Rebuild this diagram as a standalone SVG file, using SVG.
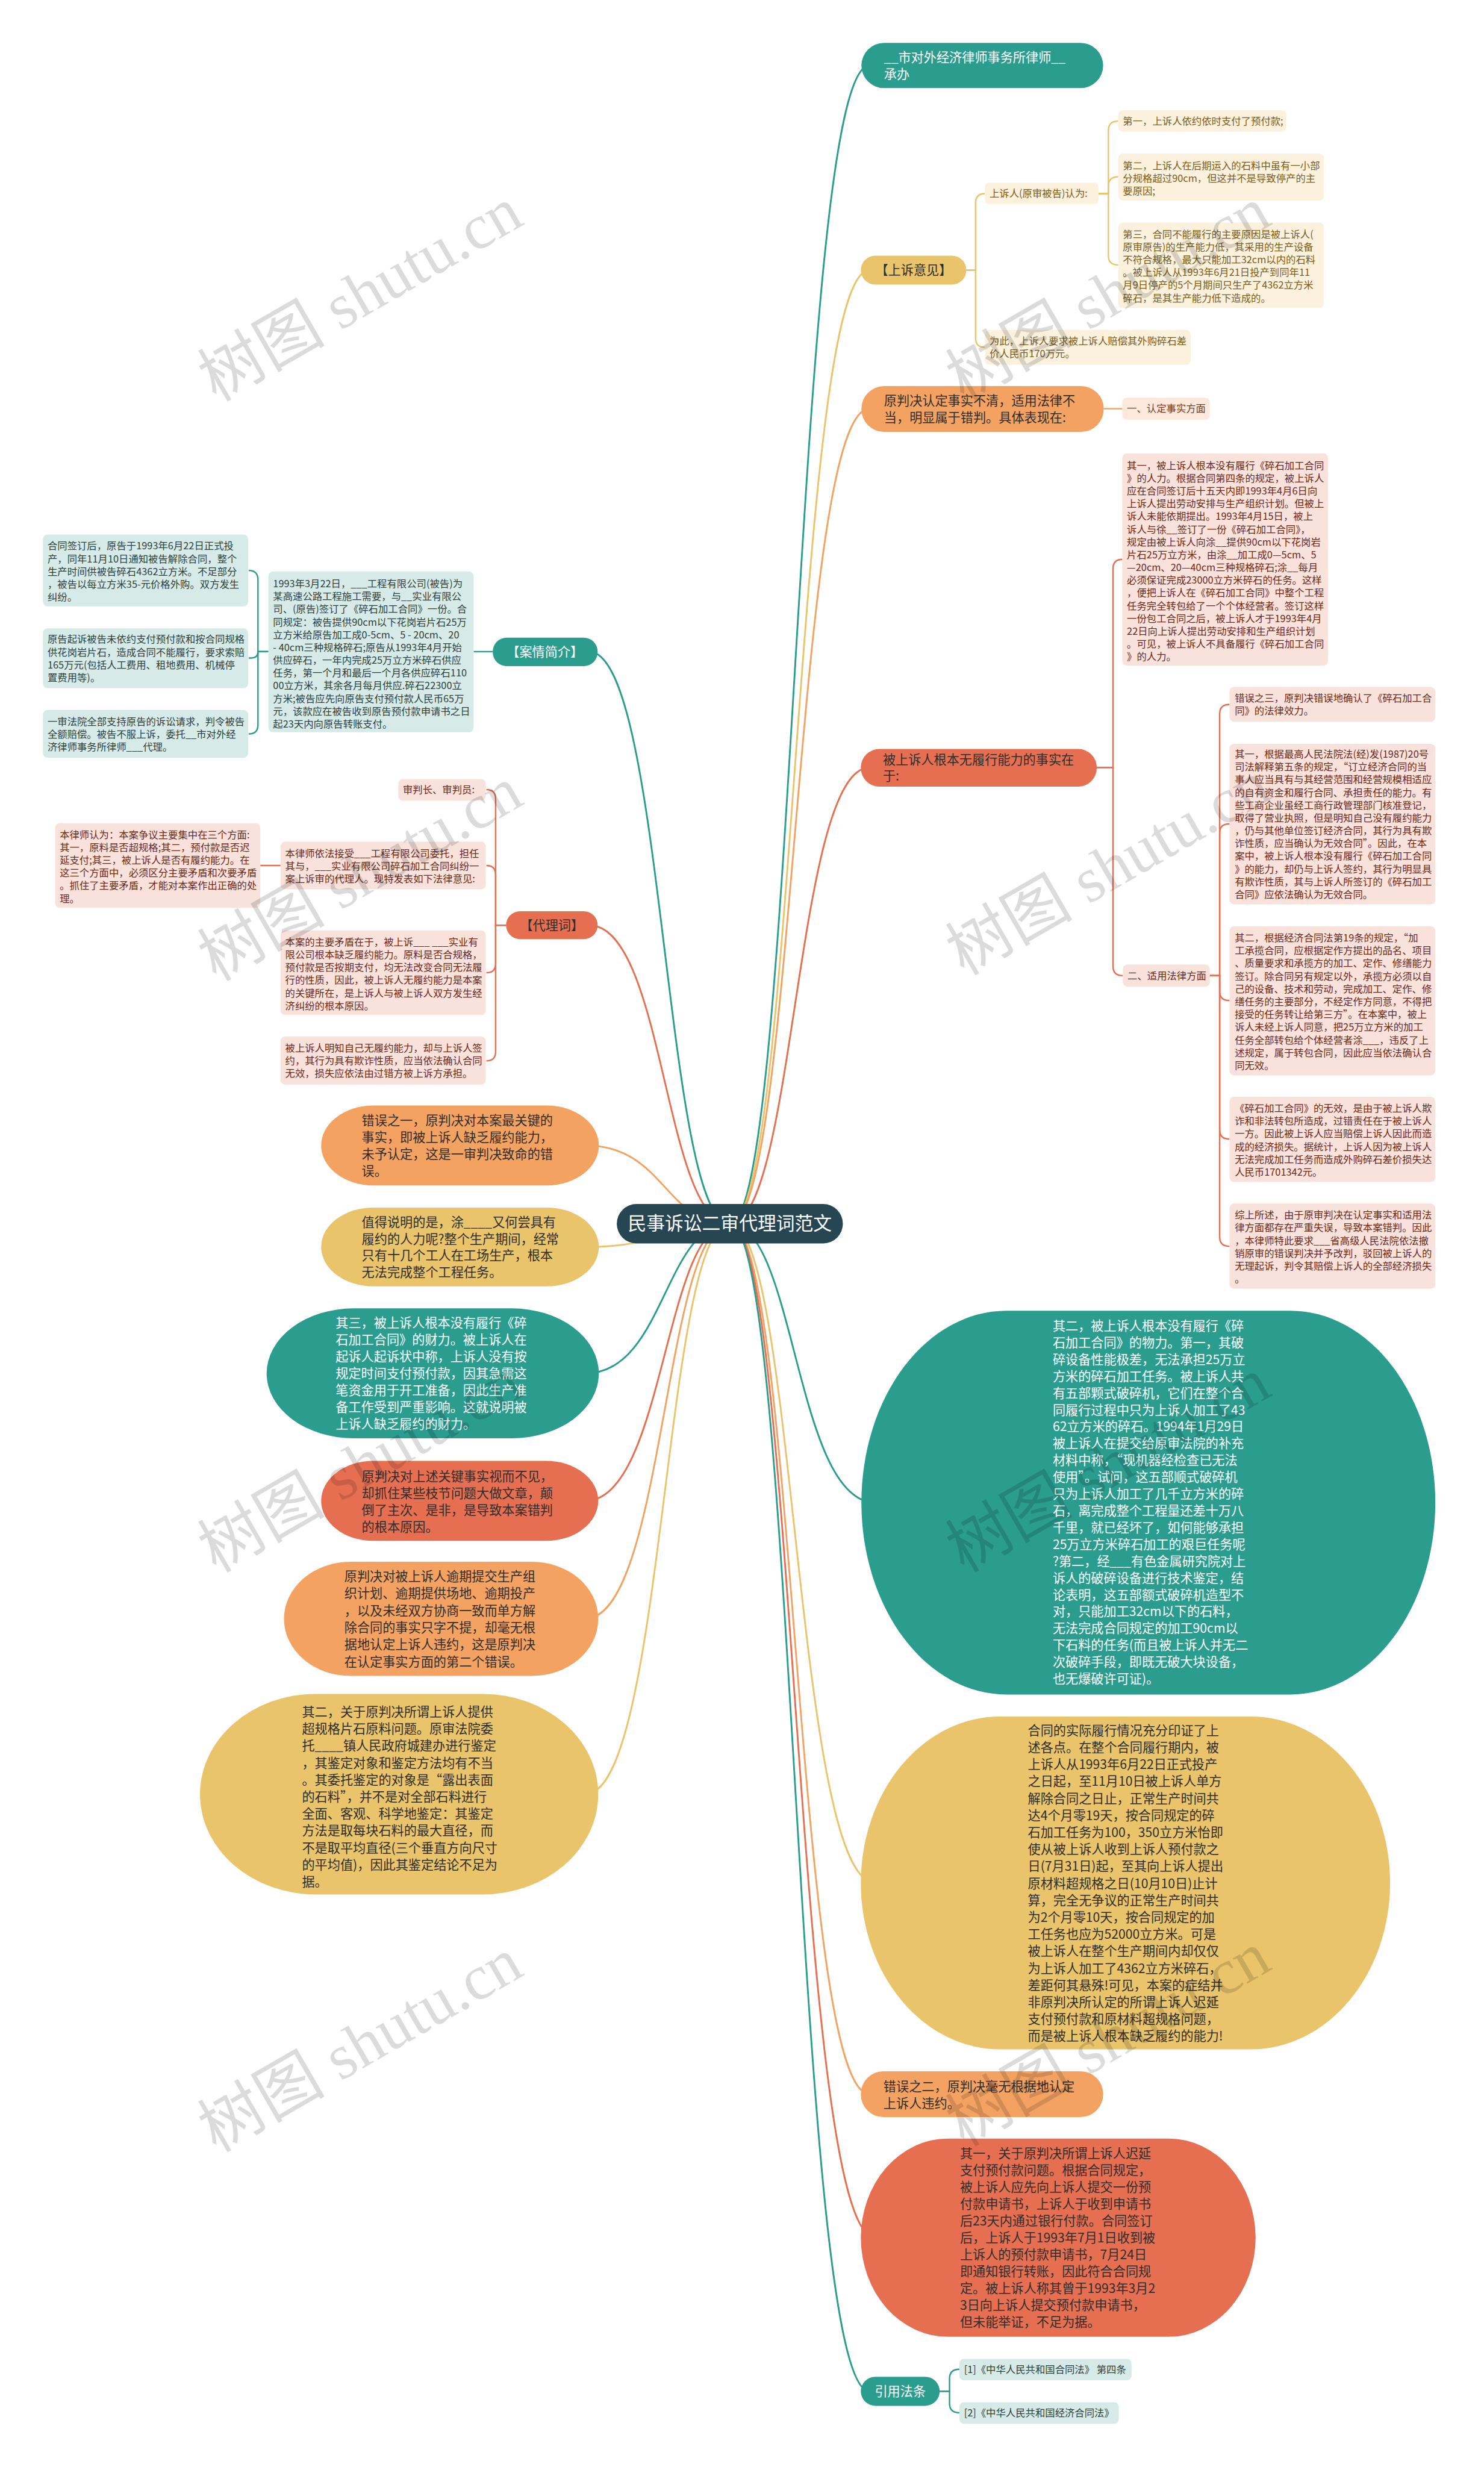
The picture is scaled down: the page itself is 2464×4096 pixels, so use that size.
<svg xmlns="http://www.w3.org/2000/svg" width="2464" height="4096" viewBox="0 0 2464 4096">
<style>
.t{font-family:"Noto Sans CJK SC","Liberation Sans",sans-serif}
.s{font-size:17px}
.m{font-size:22px}
.w{fill:#ffffff}
.d{fill:#2e2e2e}
.ty{fill:#7a5c1b}
.tr{fill:#6a2a1a}
.to{fill:#7a3a1a}
.tt{fill:#2f3f3d}
.bt{fill:#d6ebe8}
.by{fill:#fbf1dd}
.bo{fill:#fde8dc}
.br{fill:#f9e1dc}
.c{fill:none;stroke-width:3}
.c2{fill:none;stroke-width:2.5}
.kt{stroke:#2a9d8f}.ky{stroke:#e9c46a}.ko{stroke:#f4a261}.kr{stroke:#e76f51}
.wm{font-family:"Liberation Serif","Noto Sans CJK SC",serif;font-size:110px;fill:#000;fill-opacity:0.14}
</style>
<rect x="0" y="0" width="2464" height="4096" fill="#ffffff"/>
<g transform="scale(0.9625)">
<g id="connectors">
<path class="c kt" d="M1259,2111 C1372,2111 1372,113 1500,113"/>
<path class="c ky" d="M1259,2111 C1372,2111 1372,466 1500,466"/>
<path class="c ko" d="M1259,2111 C1372,2111 1372,705 1500,705"/>
<path class="c kr" d="M1259,2111 C1372,2111 1372,1324 1500,1324"/>
<path class="c kt" d="M1259,2111 C1372,2111 1372,2592 1510,2592"/>
<path class="c ky" d="M1259,2111 C1372,2111 1372,3248 1510,3248"/>
<path class="c ko" d="M1259,2111 C1372,2111 1372,3612 1500,3612"/>
<path class="c kr" d="M1259,2111 C1372,2111 1372,3860 1510,3860"/>
<path class="c kt" d="M1259,2111 C1372,2111 1372,4125 1500,4125"/>
<path class="c kt" d="M1259,2111 C1146,2111 1146,1124 1016,1124"/>
<path class="c kr" d="M1259,2111 C1146,2111 1146,1596 1016,1596"/>
<path class="c ko" d="M1259,2111 C1146,2111 1146,1976 1010,1976"/>
<path class="c ky" d="M1259,2111 C1146,2111 1146,2151 1010,2151"/>
<path class="c kt" d="M1259,2111 C1146,2111 1146,2369 1010,2369"/>
<path class="c kr" d="M1259,2111 C1146,2111 1146,2589 1010,2589"/>
<path class="c ko" d="M1259,2111 C1146,2111 1146,2792 1010,2792"/>
<path class="c ky" d="M1259,2111 C1146,2111 1146,3095 1010,3095"/>
<path class="c2 ky" d="M1667,466 H1683 V350 Q1683,334 1699,334"/>
<path class="c2 ky" d="M1667,466 H1683 V583 Q1683,599 1699,599"/>
<path class="c2 ky" d="M1895,334 H1912 V225 Q1912,209 1929,209"/>
<path class="c2 ky" d="M1895,334 H1912 V321 Q1912,305 1929,305"/>
<path class="c2 ky" d="M1895,334 H1912 V441 Q1912,457 1929,457"/>
<path class="c2 ko" d="M1904,705 H1936"/>
<path class="c2 kr" d="M1892,1324 H1920 V981 Q1920,965 1936,965"/>
<path class="c2 kr" d="M1892,1324 H1920 V1667 Q1920,1683 1937,1683"/>
<path class="c2 kr" d="M2087,1683 H2104 V1231 Q2104,1215 2121,1215"/>
<path class="c2 kr" d="M2087,1683 H2104 V1437 Q2104,1421 2121,1421"/>
<path class="c2 kr" d="M2087,1683 H2104 V1710 Q2104,1726 2121,1726"/>
<path class="c2 kr" d="M2087,1683 H2104 V1949 Q2104,1965 2121,1965"/>
<path class="c2 kr" d="M2087,1683 H2104 V2134 Q2104,2150 2121,2150"/>
<path class="c2 kt" d="M1621,4125 H1638 V4103 Q1638,4087 1655,4087"/>
<path class="c2 kt" d="M1621,4125 H1638 V4146 Q1638,4162 1655,4162"/>
<path class="c2 kt" d="M850,1124 H817"/>
<path class="c2 kt" d="M463,1124 H445 V1000 Q445,984 429,984"/>
<path class="c2 kt" d="M463,1124 H445 Q445,1135 434,1135 H429"/>
<path class="c2 kt" d="M463,1124 H445 V1250 Q445,1266 429,1266"/>
<path class="c2 kr" d="M873,1596 H855 V1378 Q855,1362 839,1362"/>
<path class="c2 kr" d="M873,1596 H855 V1509 Q855,1493 839,1493"/>
<path class="c2 kr" d="M873,1596 H855 V1662 Q855,1678 839,1678"/>
<path class="c2 kr" d="M873,1596 H855 V1814 Q855,1830 839,1830"/>
<path class="c2 kr" d="M484,1493 H449"/>
</g>

<g id="root">
<rect x="1064" y="2077" width="390" height="68" rx="34" fill="#264653"/>
<text class="t w" x="1259" y="2122" font-size="32" text-anchor="middle">民事诉讼二审代理词范文</text>
</g>

<g id="n-lawyer">
<rect x="1486" y="74" width="417" height="78" rx="39" fill="#2a9d8f"/>
<text class="t m w"><tspan x="1525" y="107">__市对外经济律师事务所律师__</tspan><tspan x="1525" y="136">承办</tspan></text>
</g>

<g id="n-appeal">
<rect x="1485" y="441" width="182" height="50" rx="25" fill="#e9c46a"/>
<text class="t m d" x="1576" y="474" text-anchor="middle">【上诉意见】</text>
</g>
<g id="n-appeal-1">
<rect x="1699" y="315" width="196" height="37" rx="8" class="by"/>
<text class="t s ty" x="1707" y="340">上诉人(原审被告)认为:</text>
</g>
<g id="n-appeal-1a">
<rect x="1929" y="190" width="290" height="37" rx="8" class="by"/>
<text class="t s ty" x="1937" y="215">第一，上诉人依约依时支付了预付款;</text>
</g>
<g id="n-appeal-1b">
<rect x="1929" y="265" width="355" height="81" rx="8" class="by"/>
<text class="t s ty"><tspan x="1937" y="292">第二，上诉人在后期运入的石料中虽有一小部</tspan><tspan x="1937" y="314">分规格超过90cm，但这并不是导致停产的主</tspan><tspan x="1937" y="336">要原因;</tspan></text>
</g>
<g id="n-appeal-1c">
<rect x="1929" y="384" width="355" height="147" rx="8" class="by"/>
<text class="t s ty"><tspan x="1937" y="410">第三，合同不能履行的主要原因是被上诉人(</tspan><tspan x="1937" y="432">原审原告)的生产能力低，其采用的生产设备</tspan><tspan x="1937" y="454">不符合规格，最大只能加工32cm以内的石料</tspan><tspan x="1937" y="476">。被上诉人从1993年6月21日投产到同年11</tspan><tspan x="1937" y="498">月9日停产的5个月期间只生产了4362立方米</tspan><tspan x="1937" y="520">碎石，是其生产能力低下造成的。</tspan></text>
</g>
<g id="n-appeal-2">
<rect x="1699" y="569" width="355" height="60" rx="8" class="by"/>
<text class="t s ty"><tspan x="1707" y="594">为此，上诉人要求被上诉人赔偿其外购碎石差</tspan><tspan x="1707" y="616">价人民币170万元。</tspan></text>
</g>

<g id="n-wrongfact">
<rect x="1486" y="666" width="418" height="79" rx="39" fill="#f4a261"/>
<text class="t m d"><tspan x="1525" y="699">原判决认定事实不清，适用法律不</tspan><tspan x="1525" y="728">当，明显属于错判。具体表现在:</tspan></text>
</g>
<g id="n-wrongfact-1">
<rect x="1936" y="686" width="151" height="38" rx="8" class="bo"/>
<text class="t s to" x="1944" y="711">一、认定事实方面</text>
</g>

<g id="n-noability">
<rect x="1485" y="1292" width="407" height="65" rx="32" fill="#e76f51"/>
<text class="t m d"><tspan x="1523" y="1318">被上诉人根本无履行能力的事实在</tspan><tspan x="1523" y="1347">于:</tspan></text>
</g>
<g id="n-noability-1">
<rect x="1936" y="782" width="355" height="366" rx="8" class="br"/>
<text class="t s tr"><tspan x="1944" y="809">其一，被上诉人根本没有履行《碎石加工合同</tspan><tspan x="1944" y="831">》的人力。根据合同第四条的规定，被上诉人</tspan><tspan x="1944" y="853">应在合同签订后十五天内即1993年4月6日向</tspan><tspan x="1944" y="875">上诉人提出劳动安排与生产组织计划。但被上</tspan><tspan x="1944" y="897">诉人未能依期提出。1993年4月15日，被上</tspan><tspan x="1944" y="919">诉人与徐__签订了一份《碎石加工合同》，</tspan><tspan x="1944" y="941">规定由被上诉人向涂__提供90cm以下花岗岩</tspan><tspan x="1944" y="963">片石25万立方米，由涂__加工成0—5cm、5</tspan><tspan x="1944" y="985">—20cm、20—40cm三种规格碎石;涂__每月</tspan><tspan x="1944" y="1007">必须保证完成23000立方米碎石的任务。这样</tspan><tspan x="1944" y="1029">，便把上诉人在《碎石加工合同》中整个工程</tspan><tspan x="1944" y="1051">任务完全转包给了一个个体经营者。签订这样</tspan><tspan x="1944" y="1073">一份包工合同之后，被上诉人才于1993年4月</tspan><tspan x="1944" y="1095">22日向上诉人提出劳动安排和生产组织计划</tspan><tspan x="1944" y="1117">。可见，被上诉人不具备履行《碎石加工合同</tspan><tspan x="1944" y="1139">》的人力。</tspan></text>
</g>
<g id="n-noability-2">
<rect x="1937" y="1664" width="150" height="38" rx="8" class="br"/>
<text class="t s tr" x="1945" y="1689">二、适用法律方面</text>
</g>
<g id="n-law-1">
<rect x="2121" y="1185" width="355" height="60" rx="8" class="br"/>
<text class="t s tr"><tspan x="2130" y="1210">错误之三，原判决错误地确认了《碎石加工合</tspan><tspan x="2130" y="1232">同》的法律效力。</tspan></text>
</g>
<g id="n-law-2">
<rect x="2121" y="1283" width="355" height="277" rx="8" class="br"/>
<text class="t s tr"><tspan x="2130" y="1307">其一，根据最高人民法院法(经)发(1987)20号</tspan><tspan x="2130" y="1329">司法解释第五条的规定，“订立经济合同的当</tspan><tspan x="2130" y="1351">事人应当具有与其经营范围和经营规模相适应</tspan><tspan x="2130" y="1373">的自有资金和履行合同、承担责任的能力。有</tspan><tspan x="2130" y="1395">些工商企业虽经工商行政管理部门核准登记，</tspan><tspan x="2130" y="1417">取得了营业执照，但是明知自己没有履约能力</tspan><tspan x="2130" y="1439">，仍与其他单位签订经济合同，其行为具有欺</tspan><tspan x="2130" y="1461">诈性质，应当确认为无效合同”。因此，在本</tspan><tspan x="2130" y="1483">案中，被上诉人根本没有履行《碎石加工合同</tspan><tspan x="2130" y="1505">》的能力，却仍与上诉人签约，其行为明显具</tspan><tspan x="2130" y="1527">有欺诈性质，其与上诉人所签订的《碎石加工</tspan><tspan x="2130" y="1549">合同》应依法确认为无效合同。</tspan></text>
</g>
<g id="n-law-3">
<rect x="2121" y="1598" width="355" height="257" rx="8" class="br"/>
<text class="t s tr"><tspan x="2130" y="1624">其二，根据经济合同法第19条的规定，“加</tspan><tspan x="2130" y="1646">工承揽合同，应根据定作方提出的品名、项目</tspan><tspan x="2130" y="1668">、质量要求和承揽方的加工、定作、修缮能力</tspan><tspan x="2130" y="1690">签订。除合同另有规定以外，承揽方必须以自</tspan><tspan x="2130" y="1712">己的设备、技术和劳动，完成加工、定作、修</tspan><tspan x="2130" y="1734">缮任务的主要部分，不经定作方同意，不得把</tspan><tspan x="2130" y="1756">接受的任务转让给第三方”。在本案中，被上</tspan><tspan x="2130" y="1778">诉人未经上诉人同意，把25万立方米的加工</tspan><tspan x="2130" y="1800">任务全部转包给个体经营者涂___，违反了上</tspan><tspan x="2130" y="1822">述规定，属于转包合同，因此应当依法确认合</tspan><tspan x="2130" y="1844">同无效。</tspan></text>
</g>
<g id="n-law-4">
<rect x="2121" y="1892" width="355" height="147" rx="8" class="br"/>
<text class="t s tr"><tspan x="2130" y="1918">《碎石加工合同》的无效，是由于被上诉人欺</tspan><tspan x="2130" y="1940">诈和非法转包所造成，过错责任在于被上诉人</tspan><tspan x="2130" y="1962">一方。因此被上诉人应当赔偿上诉人因此而造</tspan><tspan x="2130" y="1984">成的经济损失。据统计，上诉人因为被上诉人</tspan><tspan x="2130" y="2006">无法完成加工任务而造成外购碎石差价损失达</tspan><tspan x="2130" y="2028">人民币1701342元。</tspan></text>
</g>
<g id="n-law-5">
<rect x="2121" y="2076" width="355" height="147" rx="8" class="br"/>
<text class="t s tr"><tspan x="2130" y="2102">综上所述，由于原审判决在认定事实和适用法</tspan><tspan x="2130" y="2124">律方面都存在严重失误，导致本案错判。因此</tspan><tspan x="2130" y="2146">，本律师特此要求___省高级人民法院依法撤</tspan><tspan x="2130" y="2168">销原审的错误判决并予改判，驳回被上诉人的</tspan><tspan x="2130" y="2190">无理起诉，判令其赔偿上诉人的全部经济损失</tspan><tspan x="2130" y="2212">。</tspan></text>
</g>

<g id="n-material">
<rect x="1486" y="2261" width="990" height="662" rx="250" ry="331" fill="#2a9d8f"/>
<text class="t m w"><tspan x="1816" y="2295">其二，被上诉人根本没有履行《碎</tspan><tspan x="1816" dy="29">石加工合同》的物力。第一，其破</tspan><tspan x="1816" dy="29">碎设备性能极差，无法承担25万立</tspan><tspan x="1816" dy="29">方米的碎石加工任务。被上诉人共</tspan><tspan x="1816" dy="29">有五部颗式破碎机，它们在整个合</tspan><tspan x="1816" dy="29">同履行过程中只为上诉人加工了43</tspan><tspan x="1816" dy="29">62立方米的碎石。1994年1月29日</tspan><tspan x="1816" dy="29">被上诉人在提交给原审法院的补充</tspan><tspan x="1816" dy="29">材料中称，“现机器经检查已无法</tspan><tspan x="1816" dy="29">使用”。试问，这五部顺式破碎机</tspan><tspan x="1816" dy="29">只为上诉人加工了几千立方米的碎</tspan><tspan x="1816" dy="29">石，离完成整个工程量还差十万八</tspan><tspan x="1816" dy="29">千里，就已经坏了，如何能够承担</tspan><tspan x="1816" dy="29">25万立方米碎石加工的艰巨任务呢</tspan><tspan x="1816" dy="29">?第二，经___有色金属研究院对上</tspan><tspan x="1816" dy="29">诉人的破碎设备进行技术鉴定，结</tspan><tspan x="1816" dy="29">论表明，这五部额式破碎机造型不</tspan><tspan x="1816" dy="29">对，只能加工32cm以下的石料，</tspan><tspan x="1816" dy="29">无法完成合同规定的加工90cm以</tspan><tspan x="1816" dy="29">下石料的任务(而且被上诉人并无二</tspan><tspan x="1816" dy="29">次破碎手段，即既无破大块设备，</tspan><tspan x="1816" dy="29">也无爆破许可证)。</tspan></text>
</g>

<g id="n-performance">
<rect x="1485" y="2961" width="913" height="574" rx="240" ry="287" fill="#e9c46a"/>
<text class="t m d"><tspan x="1773" y="2993">合同的实际履行情况充分印证了上</tspan><tspan x="1773" dy="29.3">述各点。在整个合同履行期内，被</tspan><tspan x="1773" dy="29.3">上诉人从1993年6月22日正式投产</tspan><tspan x="1773" dy="29.3">之日起，至11月10日被上诉人单方</tspan><tspan x="1773" dy="29.3">解除合同之日止，正常生产时间共</tspan><tspan x="1773" dy="29.3">达4个月零19天，按合同规定的碎</tspan><tspan x="1773" dy="29.3">石加工任务为100，350立方米怡即</tspan><tspan x="1773" dy="29.3">使从被上诉人收到上诉人预付款之</tspan><tspan x="1773" dy="29.3">日(7月31日)起，至其向上诉人提出</tspan><tspan x="1773" dy="29.3">原材料超规格之日(10月10日)止计</tspan><tspan x="1773" dy="29.3">算，完全无争议的正常生产时间共</tspan><tspan x="1773" dy="29.3">为2个月零10天，按合同规定的加</tspan><tspan x="1773" dy="29.3">工任务也应为52000立方米。可是</tspan><tspan x="1773" dy="29.3">被上诉人在整个生产期间内却仅仅</tspan><tspan x="1773" dy="29.3">为上诉人加工了4362立方米碎石，</tspan><tspan x="1773" dy="29.3">差距何其悬殊!可见，本案的症结并</tspan><tspan x="1773" dy="29.3">非原判决所认定的所谓上诉人迟延</tspan><tspan x="1773" dy="29.3">支付预付款和原材料超规格问题，</tspan><tspan x="1773" dy="29.3">而是被上诉人根本缺乏履约的能力!</tspan></text>
</g>

<g id="n-error2">
<rect x="1485" y="3573" width="418" height="79" rx="39" fill="#f4a261"/>
<text class="t m d"><tspan x="1524" y="3607">错误之二，原判决毫无根据地认定</tspan><tspan x="1524" y="3636">上诉人违约。</tspan></text>
</g>

<g id="n-prepay">
<rect x="1485" y="3689" width="681" height="342" rx="150" ry="171" fill="#e76f51"/>
<text class="t m d"><tspan x="1656" y="3723">其一，关于原判决所谓上诉人迟延</tspan><tspan x="1656" dy="29">支付预付款问题。根据合同规定，</tspan><tspan x="1656" dy="29">被上诉人应先向上诉人提交一份预</tspan><tspan x="1656" dy="29">付款申请书，上诉人于收到申请书</tspan><tspan x="1656" dy="29">后23天内通过银行付款。合同签订</tspan><tspan x="1656" dy="29">后，上诉人于1993年7月1日收到被</tspan><tspan x="1656" dy="29">上诉人的预付款申请书，7月24日</tspan><tspan x="1656" dy="29">即通知银行转账，因此符合合同规</tspan><tspan x="1656" dy="29">定。被上诉人称其曾于1993年3月2</tspan><tspan x="1656" dy="29">3日向上诉人提交预付款申请书，</tspan><tspan x="1656" dy="29">但未能举证，不足为据。</tspan></text>
</g>

<g id="n-cite">
<rect x="1485" y="4100" width="136" height="50" rx="25" fill="#2a9d8f"/>
<text class="t m w" x="1553" y="4133" text-anchor="middle">引用法条</text>
</g>
<g id="n-cite-1">
<rect x="1655" y="4069" width="297" height="37" rx="8" class="bt"/>
<text class="t s tt" x="1663" y="4093">[1]《中华人民共和国合同法》 第四条</text>
</g>
<g id="n-cite-2">
<rect x="1655" y="4144" width="275" height="37" rx="8" class="bt"/>
<text class="t s tt" x="1663" y="4168">[2]《中华人民共和国经济合同法》</text>
</g>

<g id="n-case">
<rect x="850" y="1100" width="181" height="49" rx="24" fill="#2a9d8f"/>
<text class="t m w" x="940" y="1132" text-anchor="middle">【案情简介】</text>
</g>
<g id="n-case-1">
<rect x="463" y="986" width="354" height="277" rx="8" class="bt"/>
<text class="t s tt"><tspan x="471" y="1013">1993年3月22日，___工程有限公司(被告)为</tspan><tspan x="471" dy="22">某高速公路工程施工需要，与__实业有限公</tspan><tspan x="471" dy="22">司、(原告)签订了《碎石加工合同》一份。合</tspan><tspan x="471" dy="22">同规定：被告提供90cm以下花岗岩片石25万</tspan><tspan x="471" dy="22">立方米给原告加工成0-5cm、5 - 20cm、20</tspan><tspan x="471" dy="22">- 40cm三种规格碎石;原告从1993年4月开始</tspan><tspan x="471" dy="22">供应碎石，一年内完成25万立方米碎石供应</tspan><tspan x="471" dy="22">任务，第一个月和最后一个月各供应碎石110</tspan><tspan x="471" dy="22">00立方米，其余各月每月供应.碎石22300立</tspan><tspan x="471" dy="22">方米;被告应先向原告支付预付款人民币65万</tspan><tspan x="471" dy="22">元，该款应在被告收到原告预付款申请书之日</tspan><tspan x="471" dy="22">起23天内向原告转账支付。</tspan></text>
</g>
<g id="n-case-2">
<rect x="74" y="922" width="354" height="124" rx="8" class="bt"/>
<text class="t s tt"><tspan x="82" y="948">合同签订后，原告于1993年6月22日正式投</tspan><tspan x="82" dy="22">产，同年11月10日通知被告解除合同，整个</tspan><tspan x="82" dy="22">生产时间供被告碎石4362立方米。不足部分</tspan><tspan x="82" dy="22">，被告以每立方米35-元价格外购。双方发生</tspan><tspan x="82" dy="22">纠纷。</tspan></text>
</g>
<g id="n-case-3">
<rect x="74" y="1084" width="354" height="103" rx="8" class="bt"/>
<text class="t s tt"><tspan x="82" y="1109">原告起诉被告未依约支付预付款和按合同规格</tspan><tspan x="82" dy="22">供花岗岩片石，造成合同不能履行，要求索赔</tspan><tspan x="82" dy="22">165万元(包括人工费用、租地费用、机械停</tspan><tspan x="82" dy="22">置费用等)。</tspan></text>
</g>
<g id="n-case-4">
<rect x="74" y="1225" width="354" height="82" rx="8" class="bt"/>
<text class="t s tt"><tspan x="82" y="1251">一审法院全部支持原告的诉讼请求，判令被告</tspan><tspan x="82" dy="22">全额赔偿。被告不服上诉，委托__市对外经</tspan><tspan x="82" dy="22">济律师事务所律师___代理。</tspan></text>
</g>

<g id="n-agent">
<rect x="873" y="1572" width="158" height="48" rx="24" fill="#e76f51"/>
<text class="t m d" x="952" y="1604" text-anchor="middle">【代理词】</text>
</g>
<g id="n-agent-1">
<rect x="687" y="1344" width="151" height="37" rx="8" class="br"/>
<text class="t s tr" x="695" y="1368">审判长、审判员:</text>
</g>
<g id="n-agent-2">
<rect x="484" y="1452" width="354" height="82" rx="8" class="br"/>
<text class="t s tr"><tspan x="492" y="1478">本律师依法接受___工程有限公司委托，担任</tspan><tspan x="492" dy="22">其与，___实业有限公司碎石加工合同纠纷一</tspan><tspan x="492" dy="22">案上诉审的代理人。现特发表如下法律意见:</tspan></text>
</g>
<g id="n-agent-2a">
<rect x="95" y="1420" width="354" height="146" rx="8" class="br"/>
<text class="t s tr"><tspan x="103" y="1446">本律师认为：本案争议主要集中在三个方面:</tspan><tspan x="103" dy="22">其一，原料是否超规格;其二，预付款是否迟</tspan><tspan x="103" dy="22">延支付;其三，被上诉人是否有履约能力。在</tspan><tspan x="103" dy="22">这三个方面中，必须区分主要矛盾和次要矛盾</tspan><tspan x="103" dy="22">。抓住了主要矛盾，才能对本案作出正确的处</tspan><tspan x="103" dy="22">理。</tspan></text>
</g>
<g id="n-agent-3">
<rect x="484" y="1605" width="354" height="146" rx="8" class="br"/>
<text class="t s tr"><tspan x="492" y="1631">本案的主要矛盾在于，被上诉___ ___实业有</tspan><tspan x="492" dy="22">限公司根本缺乏履约能力。原料是否合规格，</tspan><tspan x="492" dy="22">预付款是否按期支付，均无法改变合同无法履</tspan><tspan x="492" dy="22">行的性质，因此，被上诉人无履约能力是本案</tspan><tspan x="492" dy="22">的关键所在，是上诉人与被上诉人双方发生经</tspan><tspan x="492" dy="22">济纠纷的根本原因。</tspan></text>
</g>
<g id="n-agent-4">
<rect x="484" y="1788" width="354" height="83" rx="8" class="br"/>
<text class="t s tr"><tspan x="492" y="1814">被上诉人明知自己无履约能力，却与上诉人签</tspan><tspan x="492" dy="22">约，其行为具有欺诈性质，应当依法确认合同</tspan><tspan x="492" dy="22">无效，损失应依法由过错方被上诉方承担。</tspan></text>
</g>

<g id="n-error1">
<rect x="554" y="1907" width="479" height="138" rx="90" ry="69" fill="#f4a261"/>
<text class="t m d"><tspan x="624" y="1941">错误之一，原判决对本案最关键的</tspan><tspan x="624" dy="29">事实，即被上诉人缺乏履约能力，</tspan><tspan x="624" dy="29">未予认定，这是一审判决致命的错</tspan><tspan x="624" dy="29">误。</tspan></text>
</g>
<g id="n-note">
<rect x="554" y="2083" width="479" height="136" rx="90" ry="68" fill="#e9c46a"/>
<text class="t m d"><tspan x="624" y="2116">值得说明的是，涂____又何尝具有</tspan><tspan x="624" dy="29">履约的人力呢?整个生产期间，经常</tspan><tspan x="624" dy="29">只有十几个工人在工场生产，根本</tspan><tspan x="624" dy="29">无法完成整个工程任务。</tspan></text>
</g>
<g id="n-finance">
<rect x="460" y="2257" width="573" height="224" rx="150" ry="112" fill="#2a9d8f"/>
<text class="t m w"><tspan x="579" y="2290">其三，被上诉人根本没有履行《碎</tspan><tspan x="579" dy="29">石加工合同》的财力。被上诉人在</tspan><tspan x="579" dy="29">起诉人起诉状中称，上诉人没有按</tspan><tspan x="579" dy="29">规定时间支付预付款，因其急需这</tspan><tspan x="579" dy="29">笔资金用于开工准备，因此生产准</tspan><tspan x="579" dy="29">备工作受到严重影响。这就说明被</tspan><tspan x="579" dy="29">上诉人缺乏履约的财力。</tspan></text>
</g>
<g id="n-ignore">
<rect x="554" y="2520" width="478" height="138" rx="90" ry="69" fill="#e76f51"/>
<text class="t m d"><tspan x="624" y="2555">原判决对上述关键事实视而不见，</tspan><tspan x="624" dy="29">却抓住某些枝节问题大做文章，颠</tspan><tspan x="624" dy="29">倒了主次、是非，是导致本案错判</tspan><tspan x="624" dy="29">的根本原因。</tspan></text>
</g>
<g id="n-overdue">
<rect x="490" y="2694" width="542" height="197" rx="115" ry="98" fill="#f4a261"/>
<text class="t m d"><tspan x="594" y="2727">原判决对被上诉人逾期提交生产组</tspan><tspan x="594" dy="29.5">织计划、逾期提供场地、逾期投产</tspan><tspan x="594" dy="29.5">，以及未经双方协商一致而单方解</tspan><tspan x="594" dy="29.5">除合同的事实只字不提，却毫无根</tspan><tspan x="594" dy="29.5">据地认定上诉人违约，这是原判决</tspan><tspan x="594" dy="29.5">在认定事实方面的第二个错误。</tspan></text>
</g>
<g id="n-spec">
<rect x="345" y="2922" width="687" height="346" rx="200" ry="173" fill="#e9c46a"/>
<text class="t m d"><tspan x="521" y="2961">其二，关于原判决所谓上诉人提供</tspan><tspan x="521" dy="29.3">超规格片石原料问题。原审法院委</tspan><tspan x="521" dy="29.3">托____镇人民政府城建办进行鉴定</tspan><tspan x="521" dy="29.3">，其鉴定对象和鉴定方法均有不当</tspan><tspan x="521" dy="29.3">。其委托鉴定的对象是“露出表面</tspan><tspan x="521" dy="29.3">的石料”，并不是对全部石料进行</tspan><tspan x="521" dy="29.3">全面、客观、科学地鉴定：其鉴定</tspan><tspan x="521" dy="29.3">方法是取每块石料的最大直径，而</tspan><tspan x="521" dy="29.3">不是取平均直径(三个垂直方向尺寸</tspan><tspan x="521" dy="29.3">的平均值)，因此其鉴定结论不足为</tspan><tspan x="521" dy="29.3">据。</tspan></text>
</g>

<g id="watermarks">
<text class="wm" text-anchor="middle" transform="translate(640,540) rotate(-30)">树图 shutu.cn</text>
<text class="wm" text-anchor="middle" transform="translate(1930,540) rotate(-30)">树图 shutu.cn</text>
<text class="wm" text-anchor="middle" transform="translate(640,1540) rotate(-30)">树图 shutu.cn</text>
<text class="wm" text-anchor="middle" transform="translate(1930,1530) rotate(-30)">树图 shutu.cn</text>
<text class="wm" text-anchor="middle" transform="translate(640,2560) rotate(-30)">树图 shutu.cn</text>
<text class="wm" text-anchor="middle" transform="translate(1930,2560) rotate(-30)">树图 shutu.cn</text>
<text class="wm" text-anchor="middle" transform="translate(640,3560) rotate(-30)">树图 shutu.cn</text>
<text class="wm" text-anchor="middle" transform="translate(1930,3550) rotate(-30)">树图 shutu.cn</text>
</g>
</g>
</svg>
